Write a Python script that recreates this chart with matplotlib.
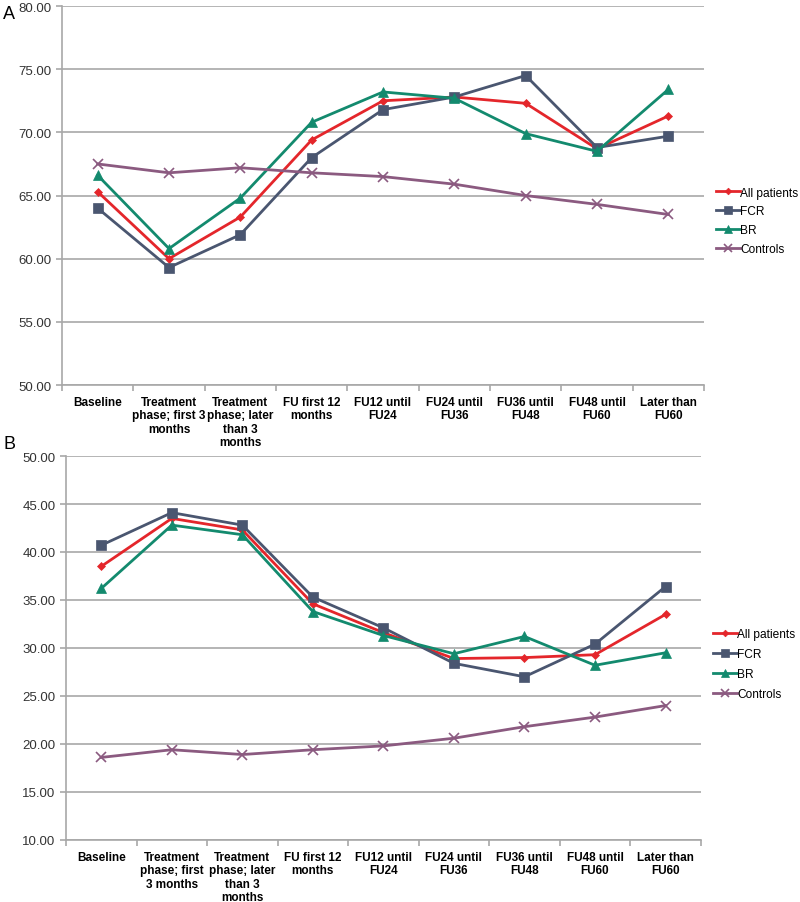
import matplotlib
matplotlib.use("Agg")
import matplotlib.pyplot as plt
from matplotlib.ticker import MultipleLocator, FormatStrFormatter, FixedLocator

plt.rcParams['font.family'] = ['Liberation Sans', 'DejaVu Sans']

labels_a = ["Baseline", "Treatment\nphase; first 3\nmonths", "Treatment\nphase; later\nthan 3\nmonths",
            "FU first 12\nmonths", "FU12 until\nFU24", "FU24 until\nFU36", "FU36 until\nFU48",
            "FU48 until\nFU60", "Later than\nFU60"]
labels_b = ["Baseline", "Treatment\nphase; first\n3 months", "Treatment\nphase; later\nthan 3\nmonths",
            "FU first 12\nmonths", "FU12 until\nFU24", "FU24 until\nFU36", "FU36 until\nFU48",
            "FU48 until\nFU60", "Later than\nFU60"]

series_names = ["All patients", "FCR", "BR", "Controls"]

a_all = [65.3, 60.0, 63.3, 69.4, 72.5, 72.8, 72.3, 68.7, 71.3]
a_fcr = [64.0, 59.3, 61.9, 68.0, 71.8, 72.8, 74.5, 68.8, 69.7]
a_br = [66.6, 60.8, 64.8, 70.8, 73.2, 72.7, 69.9, 68.5, 73.4]
a_ctrl = [67.5, 66.8, 67.2, 66.8, 66.5, 65.9, 65.0, 64.3, 63.5]

b_all = [38.5, 43.5, 42.3, 34.6, 31.6, 28.9, 29.0, 29.3, 33.5]
b_fcr = [40.7, 44.1, 42.8, 35.3, 32.1, 28.4, 27.0, 30.4, 36.4]
b_br = [36.2, 42.8, 41.8, 33.8, 31.3, 29.4, 31.2, 28.2, 29.5]
b_ctrl = [18.6, 19.4, 18.9, 19.4, 19.8, 20.6, 21.8, 22.8, 24.0]

colors = ["#E4262B", "#4A5670", "#138A6E", "#8B5A80"]
markers = ["D", "s", "^", "x"]
msizes = [4.5, 7, 7, 7]

fig = plt.figure(figsize=(8, 9.03), dpi=100)
axA = fig.add_axes([0.0775, 0.5725, 0.8025, 0.4197])
axB = fig.add_axes([0.0825, 0.0687, 0.7935, 0.4252])

grid_c = "#A8A8A8"

def style(ax, data, labels, ylim, anchor_y, lspace):
    x = list(range(len(labels)))
    for vals, name, c, m, ms in zip(data, series_names, colors, markers, msizes):
        mew = 1.2 if m == "x" else 0.5
        ax.plot(x, vals, color=c, marker=m, markersize=ms, linewidth=2.0,
                markeredgewidth=mew, markeredgecolor=c, label=name, zorder=3)
    ax.set_xlim(-0.5, len(labels) - 0.5)
    ax.set_ylim(*ylim)
    ax.yaxis.set_major_locator(MultipleLocator(5))
    ax.yaxis.set_major_formatter(FormatStrFormatter("%.2f"))
    ax.yaxis.grid(True, color=grid_c, linewidth=1.2)
    ax.set_axisbelow(True)
    for s in ["top", "right"]:
        ax.spines[s].set_visible(False)
    for s in ["left", "bottom"]:
        ax.spines[s].set_color(grid_c)
        ax.spines[s].set_linewidth(1.2)
    ax.set_xticks(x)
    ax.set_xticklabels(labels, fontsize=8.5, fontweight="bold",
                       family=['Liberation Sans Narrow', 'Liberation Sans', 'DejaVu Sans'],
                       linespacing=1.15, va="top")
    ax.tick_params(axis="x", which="major", length=0, pad=8)
    ax.xaxis.set_minor_locator(FixedLocator([i - 0.5 for i in range(len(labels) + 1)]))
    ax.tick_params(axis="x", which="minor", length=4, color=grid_c, width=1.2)
    ax.tick_params(axis="y", length=4, color=grid_c, width=1.2, labelsize=9.5, labelcolor="#333333")
    ax.legend(loc="center left", bbox_to_anchor=(1.0, anchor_y), frameon=False,
              fontsize=8.6, handlelength=2.0, handletextpad=0.05, markerscale=0.75,
              labelspacing=lspace, borderaxespad=0.8, borderpad=0.2)

style(axA, [a_all, a_fcr, a_br, a_ctrl], labels_a, (50, 80), 0.433, 0.58)
style(axB, [b_all, b_fcr, b_br, b_ctrl], labels_b, (10, 50), 0.458, 0.68)

fig.text(0.004, 1 - 6 / 903, "A", fontsize=13, va="top", ha="left")
fig.text(0.004, 1 - 436 / 903, "B", fontsize=13, va="top", ha="left")

fig.savefig("out.png", dpi=100)
